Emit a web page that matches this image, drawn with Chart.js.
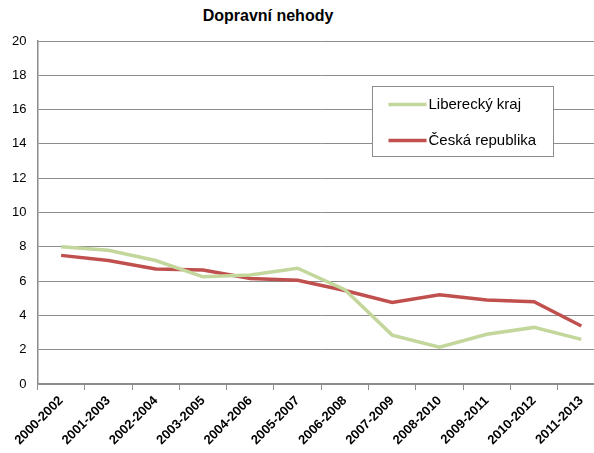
<!DOCTYPE html>
<html>
<head>
<meta charset="utf-8">
<script src="https://cdn.jsdelivr.net/npm/chart.js@4"></script>
<style>
  html, body { margin: 0; padding: 0; background: #fff; overflow: hidden; }
  #wrap { position: relative; width: 594px; height: 453px; overflow: hidden; }
  #title { position: absolute; left: 0; width: 536px; top: 7px; text-align: center;
           font: bold 16px "Liberation Sans", Arial, sans-serif; color: #000; }
  canvas { position: absolute; left: 0; top: 0; }
</style>
</head>
<body>
<div id="wrap">
  <div id="title">Dopravní nehody</div>
  <canvas id="chart" width="620" height="453"></canvas>
</div>
<script>
// chart data
var periods = ["2000-2002", "2001-2003", "2002-2004", "2003-2005", "2004-2006", "2005-2007",
               "2006-2008", "2007-2009", "2008-2010", "2009-2011", "2010-2012", "2011-2013"];
var liberec = [8.0, 7.8, 7.2, 6.25, 6.35, 6.75, 5.5, 2.85, 2.15, 2.9, 3.3, 2.6];
var czech = [7.5, 7.2, 6.7, 6.65, 6.15, 6.05, 5.45, 4.75, 5.2, 4.9, 4.8, 3.38];
var yTicks = [0, 2, 4, 6, 8, 10, 12, 14, 16, 18, 20];

var FONT = '"Liberation Sans", Arial, sans-serif';

/**
 * Legend box drawn inside the plot, Excel style
 */
var boxLegend = {
    id: 'boxLegend',
    afterDraw: function (chart) {
        let ctx = chart.ctx;
        let x = 372.5, y = 86.5, w = 181, h = 70;
        ctx.save();
        ctx.fillStyle = '#fff';
        ctx.fillRect(x, y, w, h);
        ctx.strokeStyle = '#8c8c8c';
        ctx.lineWidth = 1;
        ctx.strokeRect(x, y, w, h);
        ctx.font = '15px ' + FONT;
        ctx.textBaseline = 'middle';
        chart.data.datasets.forEach(function (ds, i) {
            let ly = y + 18 + i * 36;
            ctx.strokeStyle = ds.borderColor;
            ctx.lineWidth = 3.5;
            ctx.beginPath();
            ctx.moveTo(x + 16, ly);
            ctx.lineTo(x + 54, ly);
            ctx.stroke();
            ctx.fillStyle = '#000';
            ctx.fillText(ds.label, x + 56, ly);
        });
        ctx.restore();
    }
};

let ctx = document.getElementById('chart');
new Chart(ctx, {
    type: 'line',
    data: {
        labels: periods,
        datasets: [{
            label: 'Liberecký kraj',
            data: liberec,
            borderColor: '#c3d69b',
            borderWidth: 3.5,
            pointRadius: 0,
            tension: 0
        }, {
            label: 'Česká republika',
            data: czech,
            borderColor: '#c0504d',
            borderWidth: 3.5,
            pointRadius: 0,
            tension: 0
        }]
    },
    options: {
        responsive: false,
        animation: false,
        layout: { padding: { top: 41, right: 15, left: 0, bottom: 0 } },
        plugins: {
            legend: { display: false },
            title: { display: false },
            tooltip: { enabled: false }
        },
        scales: {
            x: {
                offset: true,
                grid: { offset: true, drawOnChartArea: false, drawTicks: true, tickLength: 6, color: '#8c8c8c', lineWidth: 1 },
                border: { color: '#8c8c8c', width: 1.5 },
                ticks: {
                    color: '#000',
                    font: { family: FONT, size: 13, weight: 'bold' },
                    maxRotation: 45, minRotation: 45,
                    autoSkip: false,
                    padding: 3
                },
                afterFit: function (scale) { scale.height = 69; }
            },
            y: {
                min: 0, max: 20,
                afterBuildTicks: function (scale) {
                    scale.ticks = yTicks.map(v => ({ value: v }));
                },
                grid: { color: '#8c8c8c', lineWidth: 1, drawTicks: false },
                border: { color: '#8c8c8c', width: 1.5 },
                ticks: {
                    color: '#000',
                    font: { family: FONT, size: 13 },
                    padding: 11
                },
                afterFit: function (scale) { scale.width = 37.5; }
            }
        }
    },
    plugins: [boxLegend]
});
</script>
</body>
</html>
